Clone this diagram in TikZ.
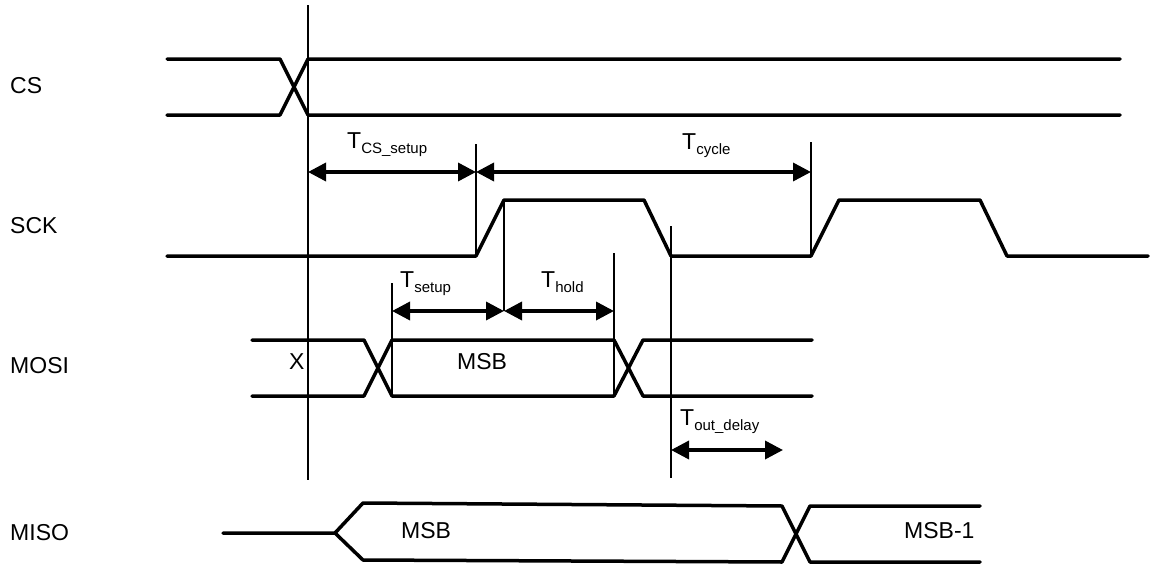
\documentclass[tikz,border=0pt]{standalone}
\usepackage{fontspec}
\setmainfont{Liberation Sans}
\usetikzlibrary{arrows.meta}
\newcommand{\tsub}[1]{T\raisebox{-5pt}{\fontsize{15}{15}\selectfont #1}}
\tikzset{
  sig/.style={line width=3.5pt, line cap=round, line join=round},
  guide/.style={line width=1.5pt},
  dim/.style={line width=3.5pt, {Triangle[length=18pt,width=18pt]}-{Triangle[length=18pt,width=18pt]}},
  lbl/.style={inner sep=0pt, anchor=base west, font=\fontsize{23}{23}\selectfont},
  tlbl/.style={inner sep=0pt, anchor=base west, font=\fontsize{23}{23}\selectfont}
}
\begin{document}
\begin{tikzpicture}[x=1pt,y=-1pt]
\useasboundingbox (0,0) rectangle (1152,565);
% signal names
\node[lbl] (cs) at (10,93) {CS};
\node[lbl] (sck) at (10,233) {SCK};
\node[lbl] (mosi) at (10,373) {MOSI};
\node[lbl] (miso) at (10,540) {MISO};
% CS
\draw[sig] (167,59)--(280,59)--(308,115)--(1120,115);
\draw[sig] (167,115)--(280,115)--(308,59)--(1120,59);
% SCK
\draw[sig] (167,256)--(476,256)--(504,200)--(644,200)--(671,256)--(811,256)--(839,200)--(980,200)--(1007,256)--(1148,256);
% MOSI
\draw[sig] (252,340)--(364,340)--(392,396)--(614,396)--(643,340)--(812,340);
\draw[sig] (252,396)--(364,396)--(392,340)--(614,340)--(643,396)--(812,396);
% MISO
\draw[sig] (223,533)--(335,533)--(363,503)--(782,506)--(810,562)--(980,562);
\draw[sig] (335,533)--(363,560)--(782,562)--(810,506)--(980,506);
% guide coordinates
\coordinate (a1) at (308,5);   \coordinate (a2) at (308,480);
\coordinate (b1) at (476,144); \coordinate (b2) at (476,256);
\coordinate (c1) at (811,142); \coordinate (c2) at (811,256);
\coordinate (d1) at (504,200); \coordinate (d2) at (504,311);
\coordinate (e1) at (392,283); \coordinate (e2) at (392,396);
\coordinate (f1) at (614,253); \coordinate (f2) at (614,396);
\coordinate (g1) at (671,226); \coordinate (g2) at (671,478);
\draw[guide] (a1)--(a2);
\draw[guide] (b1)--(b2);
\draw[guide] (c1)--(c2);
\draw[guide] (d1)--(d2);
\draw[guide] (e1)--(e2);
\draw[guide] (f1)--(f2);
\draw[guide] (g1)--(g2);
% dimension arrows
\coordinate (csa) at (308,172); \coordinate (csb) at (476,172); \coordinate (cyb) at (811,172);
\coordinate (sua) at (392,311); \coordinate (sub) at (504,311); \coordinate (hob) at (614,311);
\coordinate (oda) at (671,450); \coordinate (odb) at (783,450);
\draw[dim] (csa)--(csb);
\draw[dim] (csb)--(cyb);
\draw[dim] (sua)--(sub);
\draw[dim] (sub)--(hob);
\draw[dim] (oda)--(odb);
% timing labels
\node[tlbl] (tcs) at (347,148) {\tsub{CS\_setup}};
\node[tlbl] (tcy) at (682,149) {\tsub{cycle}};
\node[tlbl] (tsu) at (400,287) {\tsub{setup}};
\node[tlbl] (tho) at (541,287) {\tsub{hold}};
\node[tlbl] (tod) at (680,425) {\tsub{out\_delay}};
% data labels
\node[lbl] (x) at (289,369) {X};
\node[lbl] (msb1) at (457,369) {MSB};
\node[lbl] (msb2) at (401,538) {MSB};
\node[lbl] (msbm) at (904,538) {MSB-1};
\end{tikzpicture}
\end{document}
